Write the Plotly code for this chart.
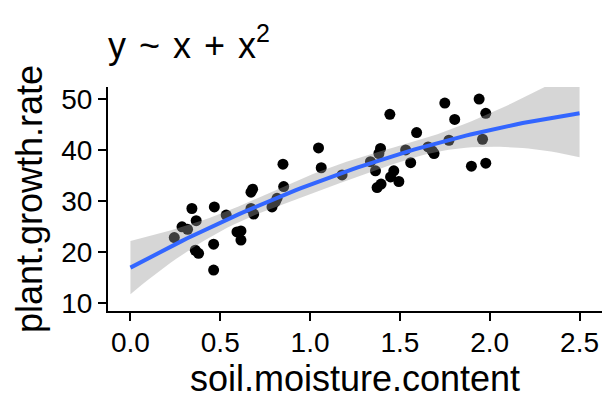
import numpy as np
import plotly.graph_objects as go

soil_moisture = [0.244, 0.287, 0.318, 0.342, 0.366, 0.361, 0.379, 0.467, 0.463, 0.463,
                 0.533, 0.593, 0.615, 0.615, 0.671, 0.680, 0.671, 0.686, 0.788, 0.806,
                 0.816, 0.849, 0.853, 1.047, 1.062, 1.178, 1.444, 1.392, 1.383, 1.336,
                 1.364, 1.466, 1.448, 1.494, 1.373, 1.395, 1.532, 1.560, 1.593, 1.657,
                 1.690, 1.680, 1.750, 1.805, 1.773, 1.898, 1.941, 1.978, 1.960, 1.978]
growth_rate = [22.8, 24.9, 24.4, 28.5, 26.1, 20.3, 19.7, 28.8, 21.5, 16.4,
               27.2, 23.9, 24.1, 22.3, 31.7, 32.3, 28.5, 27.4, 28.8, 29.8,
               30.5, 37.2, 32.8, 40.4, 36.5, 35.1, 47.0, 40.3, 39.3, 37.7,
               35.9, 35.9, 34.7, 33.8, 32.6, 33.3, 40.0, 37.5, 43.4, 40.6,
               39.3, 39.8, 49.2, 46.0, 41.9, 36.8, 50.0, 47.2, 42.1, 37.4]
x_ticks = [0.0, 0.5, 1.0, 1.5, 2.0, 2.5]
x_labels = ["0.0", "0.5", "1.0", "1.5", "2.0", "2.5"]
y_ticks = [10, 20, 30, 40, 50]
fit_range = [0.0, 2.5]

x = np.array(soil_moisture)
y = np.array(growth_rate)
X = np.column_stack([np.ones_like(x), x, x**2])
beta, *_ = np.linalg.lstsq(X, y, rcond=None)
resid = y - X @ beta
dof = len(x) - 3
s2 = resid @ resid / dof
XtX_inv = np.linalg.inv(X.T @ X)
xg = np.linspace(fit_range[0], fit_range[1], 80)
Xg = np.column_stack([np.ones_like(xg), xg, xg**2])
yg = Xg @ beta
se = np.sqrt(s2 * np.einsum("ij,jk,ik->i", Xg, XtX_inv, Xg))
tq = 2.012
upper = yg + tq * se
lower = yg - tq * se

font = "Liberation Sans, Arial, sans-serif"
fig = go.Figure()
fig.add_trace(go.Scatter(x=soil_moisture, y=growth_rate, mode="markers",
                         marker=dict(color="black", size=11), showlegend=False))
fig.add_trace(go.Scatter(x=np.concatenate([xg, xg[::-1]]),
                         y=np.concatenate([upper, lower[::-1]]),
                         fill="toself", fillcolor="rgba(153,153,153,0.4)",
                         line=dict(width=0), mode="lines", showlegend=False,
                         hoverinfo="skip"))
fig.add_trace(go.Scatter(x=xg, y=yg, mode="lines",
                         line=dict(color="#3366FF", width=4), showlegend=False))

sp = " \u200a"
title_text = f"y{sp}~{sp}x{sp}+{sp}x<sup><span style='font-size:25px'>2</span></sup>"

fig.update_layout(
    width=605, height=402,
    margin=dict(l=108, r=3, t=87, b=91),
    paper_bgcolor="white", plot_bgcolor="white",
    font=dict(family=font, color="black"),
    title=dict(text=title_text, x=0, xref="paper", xanchor="left",
               y=1 - 45 / 402, yref="container", yanchor="middle",
               font=dict(size=36, family=font, color="black")),
)
fig.update_xaxes(range=[-0.125, 2.625], tickvals=x_ticks, ticktext=x_labels,
                 ticks="outside", ticklen=8, tickwidth=2, tickcolor="black",
                 showline=True, linewidth=2, linecolor="black",
                 showgrid=False, zeroline=False, ticklabelstandoff=-3,
                 tickfont=dict(size=28, family=font, color="black"),
                 title=dict(text="soil.moisture.content", standoff=5,
                            font=dict(size=36, family=font, color="black")))
fig.update_yaxes(range=[8.37, 52.36], tickvals=y_ticks,
                 ticks="outside", ticklen=8, tickwidth=2, tickcolor="black",
                 showline=True, linewidth=2, linecolor="black",
                 showgrid=False, zeroline=False,
                 tickfont=dict(size=28, family=font, color="black"),
                 title=dict(text="plant.growth.rate", standoff=8,
                            font=dict(size=36, family=font, color="black")))

fig.write_html("out.html")
